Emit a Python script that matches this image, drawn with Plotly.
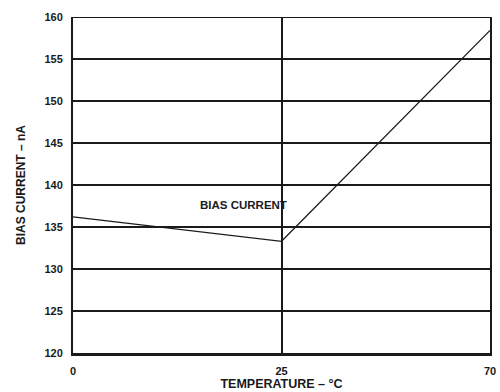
import plotly.graph_objects as go

# Bias current versus temperature
temperature = ["0", "25", "70"]
bias_current_na = [136.2, 133.3, 158.4]

y_ticks = [120, 125, 130, 135, 140, 145, 150, 155, 160]

FONT = "Liberation Sans, Arial, sans-serif"
INK = "#1a1a1a"

fig = go.Figure()
fig.add_trace(go.Scatter(
    x=temperature, y=bias_current_na, mode="lines",
    line=dict(color=INK, width=1.2), showlegend=False, hoverinfo="skip",
))

fig.add_annotation(
    x=1, y=137.6, xref="x", yref="y", text="BIAS CURRENT", showarrow=False,
    xshift=-38, font=dict(family=FONT, size=11.5, color=INK, weight="bold"),
)

# top border of the plot frame
fig.add_shape(type="line", xref="paper", yref="y", x0=0, x1=1, y0=160, y1=160,
              line=dict(color=INK, width=2))

fig.update_layout(
    width=500, height=392,
    margin=dict(l=73, r=10, t=17, b=39),
    paper_bgcolor="white", plot_bgcolor="white",
    font=dict(family=FONT, color=INK),
    xaxis=dict(
        type="category", range=[0, 2], automargin=False,
        showline=True, linewidth=3, linecolor=INK,
        showgrid=True, gridcolor=INK, gridwidth=1.5,
        ticks="", ticklabelstandoff=6,
        tickfont=dict(family=FONT, size=11, weight="bold"),
        title=dict(text="TEMPERATURE – °C", standoff=1,
                   font=dict(family=FONT, size=12.5, weight="bold")),
        zeroline=False, fixedrange=True,
    ),
    yaxis=dict(
        range=[120, 160], tickvals=y_ticks, automargin=False,
        showline=True, linewidth=2, linecolor=INK, mirror=True,
        showgrid=True, gridcolor=INK, gridwidth=1.5,
        ticks="", ticklabelstandoff=6,
        tickfont=dict(family=FONT, size=11, weight="bold"),
        title=dict(text="BIAS CURRENT – nA", standoff=16,
                   font=dict(family=FONT, size=12, weight="bold")),
        zeroline=False, fixedrange=True,
    ),
)

fig.write_html("out.html")
